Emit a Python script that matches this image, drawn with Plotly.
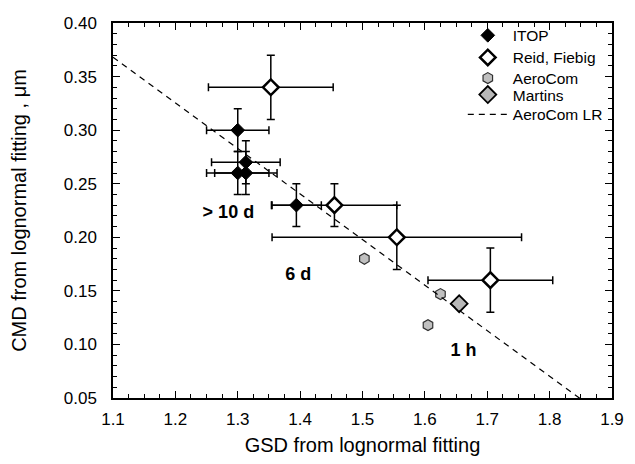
import plotly.graph_objects as go

# ITOP
itop_gsd = [1.30, 1.313, 1.30, 1.313, 1.394]
itop_cmd = [0.30, 0.27, 0.26, 0.26, 0.23]
itop_gsd_err = [0.05, 0.055, 0.05, 0.05, 0.04]
itop_cmd_err = [0.02, 0.02, 0.02, 0.02, 0.02]

# Reid, Fiebig
reid_gsd = [1.353, 1.455, 1.555, 1.705]
reid_cmd = [0.34, 0.23, 0.20, 0.16]
reid_gsd_err = [0.10, 0.10, 0.20, 0.10]
reid_cmd_err = [0.03, 0.02, 0.03, 0.03]

# AeroCom
aero_gsd = [1.503, 1.625, 1.605]
aero_cmd = [0.18, 0.147, 0.118]

# Martins
martins_gsd = [1.655]
martins_cmd = [0.138]

# AeroCom linear regression
lr_gsd = [1.10, 1.85]
lr_cmd = [0.368, 0.049]

labels_text = ["> 10 d", "6 d", "1 h"]
labels_gsd = [1.285, 1.397, 1.662]
labels_cmd = [0.222, 0.164, 0.093]

FONT = "Liberation Sans, Arial, sans-serif"

fig = go.Figure()

fig.add_trace(go.Scatter(
    x=itop_gsd, y=itop_cmd, mode="markers", name="ITOP", legend="legend",
    marker=dict(symbol="diamond", size=10.5, color="black", line=dict(color="black", width=1)),
    error_x=dict(type="data", array=itop_gsd_err, color="black", thickness=1.5, width=4),
    error_y=dict(type="data", array=itop_cmd_err, color="black", thickness=1.5, width=4),
))
fig.add_trace(go.Scatter(
    x=reid_gsd, y=reid_cmd, mode="markers", name="Reid, Fiebig", legend="legend2",
    marker=dict(symbol="diamond", size=12, color="white", line=dict(color="black", width=2.5)),
    error_x=dict(type="data", array=reid_gsd_err, color="black", thickness=1.5, width=4),
    error_y=dict(type="data", array=reid_cmd_err, color="black", thickness=1.5, width=4),
))
fig.add_trace(go.Scatter(
    x=aero_gsd, y=aero_cmd, mode="markers", name="AeroCom", legend="legend3",
    marker=dict(symbol="hexagon", size=11, color="#c0c0c0", line=dict(color="#303030", width=1.2)),
))
fig.add_trace(go.Scatter(
    x=martins_gsd, y=martins_cmd, mode="markers", name="Martins", legend="legend4",
    marker=dict(symbol="diamond", size=13, color="#b8b8b8", line=dict(color="black", width=1.8)),
))
fig.add_trace(go.Scatter(
    x=lr_gsd, y=lr_cmd, mode="lines", name="AeroCom LR", legend="legend5",
    line=dict(color="black", width=1.2, dash="6px,5px"),
))

fig.add_trace(go.Scatter(
    x=labels_gsd, y=labels_cmd, mode="text", text=labels_text,
    textfont=dict(family=FONT, size=18, color="black", weight="bold"),
    showlegend=False, hoverinfo="skip",
))

axis_common = dict(
    showline=True, linecolor="black", linewidth=1.5, mirror="ticks",
    ticks="inside", ticklen=7, tickwidth=1.2, tickcolor="black",
    showgrid=False, zeroline=False, automargin=False,
    tickfont=dict(family=FONT, size=17, color="black"),
)

fig.update_xaxes(
    range=[1.1, 1.9], dtick=0.1, tick0=1.1, tickformat=".1f", ticklabelstandoff=5,
    title=dict(text="GSD from lognormal fitting", font=dict(family=FONT, size=20, color="black"), standoff=12),
    minor=dict(dtick=0.025, ticks="inside", ticklen=4, tickcolor="black", tickwidth=1, showgrid=False),
    **axis_common,
)
fig.update_yaxes(
    range=[0.05, 0.40], dtick=0.05, tick0=0.05, tickformat=".2f", ticklabelstandoff=11,
    title=dict(text="CMD from lognormal fitting , μm", font=dict(family=FONT, size=20, color="black"), standoff=33),
    minor=dict(dtick=0.01, ticks="inside", ticklen=4, tickcolor="black", tickwidth=1, showgrid=False),
    **axis_common,
)

legend_x = 0.701
legend_ys = [0.966, 0.907, 0.852, 0.808, 0.755]
legend_common = dict(
    x=legend_x, xanchor="left", yanchor="middle",
    bgcolor="rgba(0,0,0,0)", borderwidth=0,
    font=dict(family=FONT, size=15.5, color="black"),
    itemwidth=40,
)

fig.update_layout(
    width=619, height=448,
    margin=dict(l=105, r=15, t=15, b=58, autoexpand=False),
    paper_bgcolor="white", plot_bgcolor="white",
    font=dict(family=FONT, size=15, color="black"),
    legend=dict(y=legend_ys[0], **legend_common),
    legend2=dict(y=legend_ys[1], **legend_common),
    legend3=dict(y=legend_ys[2], **legend_common),
    legend4=dict(y=legend_ys[3], **legend_common),
    legend5=dict(y=legend_ys[4], **legend_common),
)

fig.write_html("out.html")
